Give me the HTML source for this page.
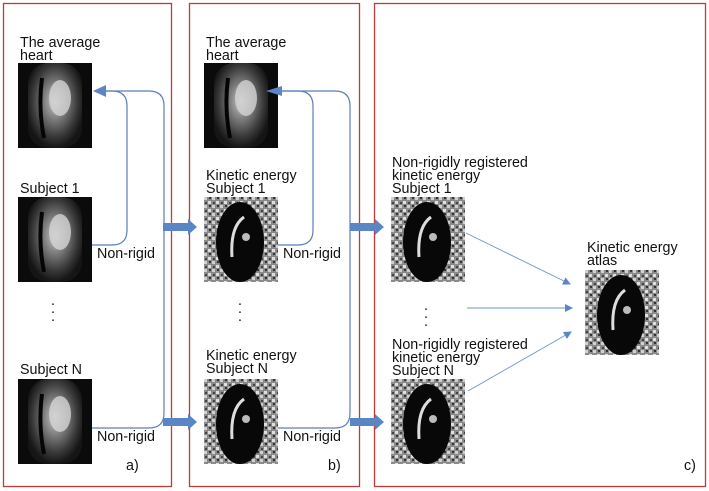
<!DOCTYPE html>
<html><head><meta charset="utf-8"><style>
html,body{margin:0;padding:0;background:#fff;}
svg{display:block;font-family:"Liberation Sans",sans-serif;}
text{font-size:14.3px;fill:#111;}
</style></head><body>
<svg width="709" height="491" viewBox="0 0 709 491" xmlns="http://www.w3.org/2000/svg">
<defs>
<radialGradient id="mri" cx="0.5" cy="0.45" r="0.55">
<stop offset="0" stop-color="#c8c8c8"/><stop offset="0.4" stop-color="#7a7a7a"/><stop offset="0.75" stop-color="#3a3a3a"/><stop offset="1" stop-color="#151515"/>
</radialGradient>
<pattern id="noise" width="8" height="8" patternUnits="userSpaceOnUse">
<rect width="8" height="8" fill="#8a8a8a"/><rect x="0" y="0" width="3" height="3" fill="#d0d0d0"/><rect x="4" y="4" width="3" height="3" fill="#e0e0e0"/><rect x="5" y="0" width="2" height="2" fill="#333"/><rect x="1" y="5" width="2" height="2" fill="#444"/>
</pattern>
<g id="mriimg">
<rect width="74" height="85" fill="#0b0b0b"/>
<rect x="10" y="0" width="54" height="85" rx="20" fill="url(#mri)"/>
<ellipse cx="42" cy="35" rx="11" ry="18" fill="#d5d5d5" opacity="0.8"/>
<path d="M24 15 Q20 45 26 75" stroke="#050505" stroke-width="4" fill="none"/>
</g>
<g id="keimg">
<rect width="74" height="85" fill="url(#noise)"/>
<ellipse cx="36" cy="45" rx="24" ry="40" fill="#080808"/>
<path d="M28 60 Q26 30 40 20" stroke="#ddd" stroke-width="3" fill="none"/>
<circle cx="42" cy="40" r="4" fill="#bbb"/>
</g>
<marker id="ah" markerWidth="8" markerHeight="8" refX="7" refY="4" orient="auto" markerUnits="userSpaceOnUse"><path d="M0 0 L8 4 L0 8 Z" fill="#5b86c6"/></marker>
</defs>
<rect x="3.5" y="3.5" width="168" height="483" fill="none" stroke="#c0393b" stroke-width="1.3"/>
<rect x="189.5" y="3.5" width="170" height="483" fill="none" stroke="#c0393b" stroke-width="1.3"/>
<rect x="374.5" y="3.5" width="331" height="483" fill="none" stroke="#c0393b" stroke-width="1.3"/>

<text x="20" y="47">The average</text><text x="20" y="60">heart</text>
<use href="#mriimg" x="18" y="63"/>
<text x="20" y="193">Subject 1</text>
<use href="#mriimg" x="18" y="197"/>
<text x="51" y="305">.</text><text x="51" y="313">.</text><text x="51" y="321">.</text>
<text x="20" y="374">Subject N</text>
<use href="#mriimg" x="18" y="379"/>
<text x="97" y="258">Non-rigid</text>
<text x="97" y="441">Non-rigid</text>
<text x="126" y="470">a)</text>
<path d="M92 245 H112 Q127 245 127 230 V106 Q127 91 112 91 H100" fill="none" stroke="#5b7fb8" stroke-width="1.2"/>
<path d="M92 428 H149 Q164 428 164 413 V106 Q164 91 149 91 H100" fill="none" stroke="#5b7fb8" stroke-width="1.2"/>
<path d="M93 91 L106 85 L106 97 Z" fill="#5b86c6"/>

<text x="206" y="47">The average</text><text x="206" y="60">heart</text>
<use href="#mriimg" x="204" y="63"/>
<text x="206" y="180">Kinetic energy</text><text x="206" y="193">Subject 1</text>
<use href="#keimg" x="204" y="197"/>
<text x="238" y="305">.</text><text x="238" y="313">.</text><text x="238" y="321">.</text>
<text x="206" y="360">Kinetic energy</text><text x="206" y="373">Subject N</text>
<use href="#keimg" x="204" y="379"/>
<text x="283" y="258">Non-rigid</text>
<text x="283" y="441">Non-rigid</text>
<text x="328" y="470">b)</text>
<path d="M278 245 H298 Q313 245 313 230 V106 Q313 91 298 91 H280" fill="none" stroke="#5b7fb8" stroke-width="1.2"/>
<path d="M278 428 H335 Q350 428 350 413 V106 Q350 91 335 91 H280" fill="none" stroke="#5b7fb8" stroke-width="1.2"/>
<path d="M266 91 L282 86 L282 96 Z" fill="#5b86c6"/>

<g fill="#5b86c6">
<path d="M163 223 H188 V219 L197 227 L188 235 V231 H163 Z"/>
<path d="M163 418 H188 V414 L197 422 L188 430 V426 H163 Z"/>
<path d="M350 223 H375 V219 L384 227 L375 235 V231 H350 Z"/>
<path d="M350 418 H375 V414 L384 422 L375 430 V426 H350 Z"/>
</g>

<text x="392" y="167">Non-rigidly registered</text>
<text x="392" y="180">kinetic energy</text>
<text x="392" y="193">Subject 1</text>
<use href="#keimg" x="391" y="197"/>
<text x="424" y="310">.</text><text x="424" y="318">.</text><text x="424" y="326">.</text>
<text x="392" y="349">Non-rigidly registered</text>
<text x="392" y="362">kinetic energy</text>
<text x="392" y="375">Subject N</text>
<use href="#keimg" x="391" y="379"/>
<text x="587" y="252">Kinetic energy</text>
<text x="587" y="265">atlas</text>
<use href="#keimg" x="585" y="270"/>
<g stroke="#6f93cc" stroke-width="0.9" fill="none" marker-end="url(#ah)">
<line x1="466" y1="233" x2="570" y2="284"/>
<line x1="467" y1="308" x2="572" y2="308"/>
<line x1="468" y1="391" x2="571" y2="332"/>
</g>
<text x="684" y="470">c)</text>
</svg>
</body></html>
